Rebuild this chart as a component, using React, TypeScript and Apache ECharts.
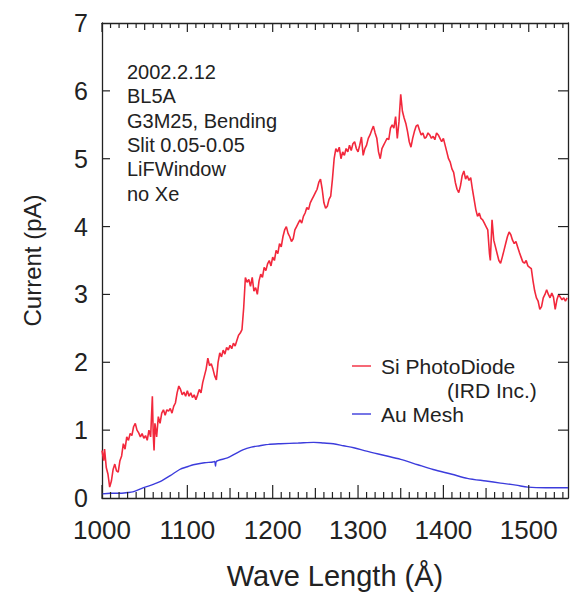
import React, { useEffect, useRef } from "react";
import * as echarts from "echarts";

const siWave = [1000,1002,1003,1005,1007,1009,1011,1013,1015,1017,1019,1021,1023,1025,1027,1029,1031,1033,1035,1037,1039,1041,1043,1045,1047,1049,1051,1053,1055,1057,1059,1060,1061,1062,1064,1066,1068,1070,1072,1074,1076,1078,1080,1082,1084,1086,1088,1090,1092,1094,1096,1098,1100,1102,1104,1106,1108,1110,1112,1114,1116,1118,1120,1122,1124,1126,1128,1130,1132,1134,1136,1138,1140,1142,1144,1146,1148,1150,1152,1154,1156,1158,1160,1162,1164,1166,1168,1170,1172,1174,1176,1178,1180,1182,1184,1186,1188,1190,1192,1194,1196,1198,1200,1202,1204,1206,1208,1210,1212,1214,1216,1218,1220,1222,1224,1226,1228,1230,1232,1234,1236,1238,1240,1242,1244,1246,1248,1250,1252,1254,1256,1258,1260,1262,1264,1266,1268,1270,1272,1274,1276,1278,1280,1282,1284,1286,1288,1290,1292,1294,1296,1298,1300,1302,1304,1306,1308,1310,1312,1314,1316,1318,1320,1322,1324,1326,1328,1330,1332,1334,1336,1338,1340,1342,1344,1346,1348,1350,1352,1354,1356,1358,1360,1362,1364,1366,1368,1370,1372,1374,1376,1378,1380,1382,1384,1386,1388,1390,1392,1394,1396,1398,1400,1402,1404,1406,1408,1410,1412,1414,1416,1418,1420,1422,1424,1426,1428,1430,1432,1434,1436,1438,1440,1442,1444,1446,1448,1450,1452,1454,1455,1457,1459,1461,1463,1465,1467,1469,1471,1473,1475,1477,1479,1481,1483,1485,1487,1489,1491,1493,1495,1497,1499,1501,1503,1505,1507,1509,1511,1513,1515,1517,1519,1521,1523,1525,1527,1529,1531,1533,1535,1537,1539,1541,1543,1545];
const siCurrent = [0.70,0.55,0.72,0.45,0.35,0.16,0.25,0.42,0.50,0.40,0.38,0.55,0.62,0.80,0.72,0.90,0.85,0.95,0.92,1.05,1.10,1.00,0.96,0.90,0.95,0.88,0.92,0.85,1.00,0.90,1.50,0.95,0.70,1.10,0.90,1.20,1.10,1.25,1.30,1.22,1.30,1.28,1.32,1.25,1.35,1.40,1.55,1.65,1.60,1.52,1.56,1.50,1.58,1.50,1.55,1.48,1.52,1.45,1.52,1.60,1.55,1.70,1.80,1.90,2.06,1.95,1.98,1.90,1.80,1.74,2.00,2.14,2.08,2.18,2.12,2.22,2.18,2.25,2.20,2.28,2.24,2.32,2.40,2.43,2.48,2.80,3.25,3.18,3.22,3.12,3.25,3.05,3.10,3.00,3.20,3.30,3.25,3.40,3.35,3.45,3.50,3.42,3.55,3.50,3.65,3.60,3.75,3.70,3.85,3.95,4.00,3.90,3.85,3.78,3.82,3.95,4.00,4.05,4.10,4.05,4.15,4.20,4.28,4.25,4.35,4.40,4.45,4.50,4.55,4.65,4.70,4.55,4.35,4.27,4.30,4.40,4.45,4.70,5.00,5.15,5.10,5.17,5.00,5.10,5.05,5.15,5.10,5.20,5.12,5.22,5.25,5.15,5.10,5.20,5.32,5.05,5.15,5.20,5.30,5.35,5.42,5.48,5.38,5.30,5.10,5.00,5.15,5.20,5.25,5.30,5.28,5.45,5.50,5.45,5.62,5.30,5.55,5.95,5.70,5.60,5.52,5.40,5.25,5.17,5.30,5.40,5.48,5.50,5.42,5.35,5.38,5.30,5.32,5.38,5.35,5.30,5.33,5.28,5.38,5.35,5.30,5.25,5.30,5.20,5.10,5.00,4.95,4.85,4.80,4.65,4.55,4.50,4.60,4.75,4.82,4.70,4.75,4.68,4.72,4.55,4.40,4.25,4.15,4.20,4.12,4.10,4.05,4.00,3.95,3.60,3.50,4.10,3.80,3.70,3.60,3.50,3.46,3.55,3.65,3.75,3.85,3.92,3.88,3.80,3.75,3.78,3.70,3.62,3.55,3.48,3.46,3.50,3.42,3.40,3.38,3.20,3.05,2.95,2.90,2.78,2.82,2.95,3.00,3.07,3.00,2.95,3.02,2.96,2.78,2.92,3.00,2.96,2.92,2.95,2.90,2.95];

const auWave = [1000,1010,1020,1030,1036,1048,1060,1068,1080,1091,1100,1107,1120,1130,1132,1133,1134,1147,1156,1165,1175,1185,1195,1209,1230,1248,1260,1271,1283,1295,1310,1330,1350,1370,1388,1410,1428,1450,1467,1485,1499,1520,1546];
const auCurrent = [0.06,0.07,0.07,0.08,0.09,0.15,0.20,0.24,0.33,0.42,0.46,0.49,0.52,0.53,0.54,0.47,0.54,0.59,0.65,0.71,0.75,0.77,0.79,0.80,0.81,0.82,0.81,0.80,0.77,0.74,0.69,0.63,0.57,0.49,0.42,0.35,0.29,0.25,0.22,0.19,0.16,0.15,0.15];

const xMin = 1000;
const xMax = 1546;
const yMin = 0;
const yMax = 7;
const xTickStep = 10;
const yTickValues = [0, 1, 2, 3, 4, 5, 6, 7];
const notes = ["2002.2.12", "BL5A", "G3M25, Bending", "Slit 0.05-0.05", "LiFWindow", "no Xe"];
const seriesNames = ["Si PhotoDiode", "Au Mesh"];

const FONT = "'Liberation Sans', Arial, Helvetica, sans-serif";
const RED = "#f2283c";
const BLUE = "#3c3cdc";
const AX = "#222222";

export default function App() {
  const ref = useRef<HTMLDivElement>(null);
  useEffect(() => {
    if (!ref.current) return;
    const chart = echarts.init(ref.current, null, { renderer: "svg" });
    const siData = siWave.map((x, i) => [x, siCurrent[i]]);
    const auData = auWave.map((x, i) => [x, auCurrent[i]]);
    const axisLine = { show: true, onZero: false, lineStyle: { color: AX, width: 1.3 } };
    const staticGraphics: any[] = [
      {
        type: "text",
        left: 127,
        top: 60,
        style: { text: notes.join("\n"), font: `20px ${FONT}`, lineHeight: 24.3, fill: "#222" },
      },
      { type: "line", shape: { x1: 352, y1: 366, x2: 371, y2: 366 }, style: { stroke: RED, lineWidth: 1.4 } },
      { type: "text", x: 381, y: 366, style: { text: seriesNames[0], font: `21px ${FONT}`, fill: "#222", verticalAlign: "middle" } },
      { type: "text", x: 447, y: 390, style: { text: "(IRD Inc.)", font: `21px ${FONT}`, fill: "#222", verticalAlign: "middle" } },
      { type: "line", shape: { x1: 352, y1: 414, x2: 371, y2: 414 }, style: { stroke: BLUE, lineWidth: 1.4 } },
      { type: "text", x: 381, y: 414, style: { text: seriesNames[1], font: `21px ${FONT}`, fill: "#222", verticalAlign: "middle" } },
    ];
    chart.setOption({
      animation: false,
      backgroundColor: "#fff",
      grid: { left: 102, right: 2, top: 23, bottom: 97, containLabel: false },
      xAxis: [
        {
          type: "value",
          position: "bottom",
          min: xMin,
          max: xMax,
          interval: 100,
          axisLine,
          axisTick: { show: false },
          splitLine: { show: false },
          axisLabel: { fontSize: 26, color: "#222", fontFamily: FONT, margin: 19, showMaxLabel: false, formatter: (v: number) => String(v) },
          name: "Wave Length (Å)",
          nameLocation: "middle",
          nameGap: 63,
          nameTextStyle: { fontSize: 29, color: "#222", fontFamily: FONT },
        },
        {
          type: "value",
          position: "top",
          min: xMin,
          max: xMax,
          interval: 100,
          axisLine,
          axisTick: { show: false },
          splitLine: { show: false },
          axisLabel: { show: false },
        },
      ],
      yAxis: [
        {
          type: "value",
          position: "left",
          min: yMin,
          max: yMax,
          interval: 1,
          name: "Current (pA)",
          nameLocation: "middle",
          nameGap: 58,
          nameTextStyle: { fontSize: 24, color: "#222", fontFamily: FONT },
          axisLine,
          axisTick: { show: false },
          splitLine: { show: false },
          axisLabel: { fontSize: 25, color: "#222", fontFamily: FONT, margin: 14 },
        },
        {
          type: "value",
          position: "right",
          min: yMin,
          max: yMax,
          interval: 1,
          axisLine,
          axisTick: { show: false },
          splitLine: { show: false },
          axisLabel: { show: false },
        },
      ],
      series: [
        {
          name: seriesNames[0],
          type: "line",
          data: siData,
          showSymbol: false,
          lineStyle: { color: RED, width: 1.6 },
          itemStyle: { color: RED },
          z: 3,
        },
        {
          name: seriesNames[1],
          type: "line",
          data: auData,
          smooth: 0.3,
          showSymbol: false,
          lineStyle: { color: BLUE, width: 1.4 },
          itemStyle: { color: BLUE },
          z: 2,
        },
      ],
      graphic: staticGraphics,
    });

    // Tick marks as thin filled rects, positioned through the grid's scales
    const ticks: any[] = [];
    const toPx = (x: number, y: number) => chart.convertToPixel({ gridIndex: 0 }, [x, y]) as number[];
    const addRect = (x: number, y: number, w: number, h: number) => {
      ticks.push({ type: "rect", silent: true, z: 100, shape: { x, y, width: w, height: h }, style: { fill: AX } });
    };
    for (let v = xMin; v <= xMax; v += xTickStep) {
      const major = v % 100 === 0;
      const mid = !major && v % 50 === 0;
      const b = toPx(v, yMin);
      const t = toPx(v, yMax);
      const lb = major ? 13 : mid ? 10 : 6;
      const lt = major ? 9 : mid ? 7 : 5;
      addRect(b[0] - 0.6, b[1] - lb, 1.2, lb);
      addRect(t[0] - 0.6, t[1], 1.2, lt);
    }
    yTickValues.forEach((y) => {
      if (y === yMin || y === yMax) return;
      const l = toPx(xMin, y);
      const r = toPx(xMax, y);
      addRect(l[0], l[1] - 0.6, 8, 1.2);
      addRect(r[0] - 10, r[1] - 0.6, 10, 1.2);
    });
    chart.setOption({ graphic: { elements: [...staticGraphics, ...ticks] } });

    return () => chart.dispose();
  }, []);
  return (
    <div
      ref={ref}
      style={{ position: "absolute", left: 0, top: 0, width: 570, height: 595, background: "#fff" }}
    />
  );
}
